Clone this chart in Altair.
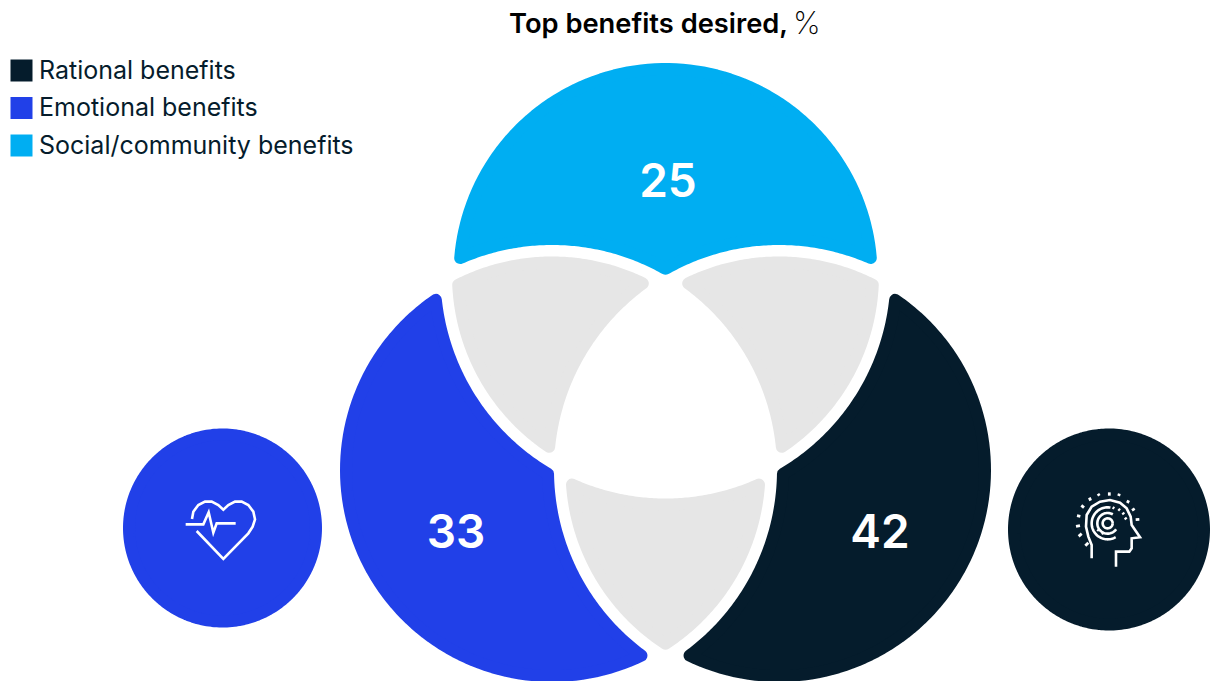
import numpy as np
import altair as alt

# Series and their values
series = ["Rational benefits", "Emotional benefits", "Social/community benefits"]
values = [42, 33, 25]
colors = ["#051c2c", "#2140e8", "#00aef2"]
overlap_color = "#e6e6e6"
ink = "#051c2c"

# Venn geometry, in pixels
CT, CL, CR = (665.5, 275.0), (552.0, 470.0), (779.0, 470.0)
RADIUS, CUT, ROUND = 212.0, 225.0, 6.0
R_OUT, R_CUT = RADIUS - ROUND, CUT + ROUND
R_LENS = R_OUT + 1.5


def meet(c1, r1, c2, r2, near):
    """Intersection of two circles closest to the point `near`."""
    c1, c2 = np.array(c1), np.array(c2)
    d = np.linalg.norm(c2 - c1)
    a = (r1**2 - r2**2 + d**2) / (2 * d)
    h = np.sqrt(r1**2 - a**2)
    u = (c2 - c1) / d
    mid = c1 + a * u
    perp = np.array([-u[1], u[0]])
    pts = [mid + h * perp, mid - h * perp]
    return min(pts, key=lambda p: np.linalg.norm(p - np.array(near)))


def arc(c, r, p, q, via=None, n=90):
    """Points along a circle from p to q, through `via` when given, else the short way."""
    c = np.array(c)
    a0 = np.arctan2(*(p - c)[::-1])
    a1 = np.arctan2(*(q - c)[::-1])
    d = (a1 - a0) % (2 * np.pi)
    if via is not None:
        v = (np.arctan2(via[1] - c[1], via[0] - c[0]) - a0) % (2 * np.pi)
        sweep = d if v < d else d - 2 * np.pi
    else:
        sweep = d if d <= np.pi else d - 2 * np.pi
    t = np.linspace(a0, a0 + sweep, n)
    return [[float(c[0] + r * np.cos(x)), float(c[1] + r * np.sin(x))] for x in t]


def ring(*arcs):
    pts = [p for a in arcs for p in a]
    return pts + [pts[0]]


def polygon(pts, **props):
    return {"type": "Feature", "properties": props,
            "geometry": {"type": "Polygon", "coordinates": [pts]}}


def disc(c, r, **props):
    t = np.linspace(0, 2 * np.pi, 240)
    return polygon([[float(c[0] + r * np.cos(x)), float(c[1] + r * np.sin(x))] for x in t], **props)


# Outer crescents
a = meet(CT, R_OUT, CL, R_CUT, (455, 262))
b = meet(CT, R_OUT, CR, R_CUT, (878, 262))
c = meet(CL, R_CUT, CR, R_CUT, (666, 273))
top = ring(arc(CT, R_OUT, a, b, via=(665, 60)), arc(CR, R_CUT, b, c), arc(CL, R_CUT, c, a))

a = meet(CL, R_OUT, CT, R_CUT, (435, 296))
b = meet(CL, R_OUT, CR, R_CUT, (645, 655))
c = meet(CT, R_CUT, CR, R_CUT, (553, 470))
left = ring(arc(CL, R_OUT, a, b, via=(340, 470)), arc(CR, R_CUT, b, c), arc(CT, R_CUT, c, a))

a = meet(CR, R_OUT, CT, R_CUT, (895, 296))
b = meet(CR, R_OUT, CL, R_CUT, (687, 655))
c = meet(CT, R_CUT, CL, R_CUT, (778, 470))
right = ring(arc(CR, R_OUT, a, b, via=(991, 470)), arc(CL, R_CUT, b, c), arc(CT, R_CUT, c, a))

# Pairwise overlaps
p1 = meet(CL, R_LENS, CT, R_LENS, (452, 282))
p2 = meet(CL, R_LENS, CR, R_CUT, (648, 283))
p3 = meet(CT, R_LENS, CR, R_CUT, (553, 450))
lens_left = ring(arc(CL, R_LENS, p1, p2), arc(CR, R_CUT, p2, p3), arc(CT, R_LENS, p3, p1))

p1 = meet(CR, R_LENS, CT, R_LENS, (878, 282))
p2 = meet(CR, R_LENS, CL, R_CUT, (684, 283))
p3 = meet(CT, R_LENS, CL, R_CUT, (779, 450))
lens_right = ring(arc(CR, R_LENS, p1, p2), arc(CL, R_CUT, p2, p3), arc(CT, R_LENS, p3, p1))

p1 = meet(CR, R_LENS, CT, R_CUT - 1.5, (566, 480))
p2 = meet(CL, R_LENS, CT, R_CUT - 1.5, (764, 480))
p3 = meet(CL, R_LENS, CR, R_LENS, (665, 650))
lens_bottom = ring(arc(CT, R_CUT - 1.5, p1, p2), arc(CL, R_LENS, p2, p3), arc(CR, R_LENS, p3, p1))

crescents = [
    polygon(right, series=series[0]),
    polygon(left, series=series[1]),
    polygon(top, series=series[2]),
    disc((1109, 529.5), 95, series=series[0]),
    disc((222.5, 528), 93.5, series=series[1]),
]
overlaps = [polygon(lens_left), polygon(lens_right), polygon(lens_bottom)]

# Icon outlines, on a 3x grid anchored at each icon's corner
heart_lines = [
    [(66, 102), (70, 80), (85, 60), (105, 50), (125, 50), (145, 60), (160, 74), (175, 60), (195, 50),
     (215, 50), (235, 60), (250, 80), (255, 103), (248, 125), (235, 145), (160, 222), (80, 138)],
    [(47, 118), (100, 118), (116, 82), (130, 143), (140, 115), (197, 115)],
]
head_lines = [
    [(95, 235), (95, 195), (85, 170), (78, 140), (80, 105), (95, 80), (120, 65), (150, 60), (180, 68),
     (200, 85), (212, 110), (215, 135), (240, 172), (215, 175), (215, 205), (208, 215), (168, 215), (168, 260)],
]
head_ticks = [
    [(148, 37), (148, 47)], [(114, 41), (118, 47)], [(178, 41), (176, 48)], [(88, 53), (92, 62)],
    [(206, 61), (202, 69)], [(64, 76), (72, 83)], [(224, 86), (216, 91)], [(51, 107), (61, 109)],
    [(227, 119), (238, 118)], [(48, 139), (60, 137)], [(56, 169), (65, 161)], [(76, 197), (85, 188)],
    [(158, 82), (163, 85)], [(175, 87), (180, 91)], [(188, 98), (192, 103)], [(195, 113), (199, 118)],
    [(112, 148), (117, 152)], [(126, 158), (131, 162)],
]
head_rings = [
    ((143, 130), 15, 0, 360),
    ((143, 130), 31, 35, 300),
    ((143, 130), 48, 60, 280),
]


def grid(points, origin):
    return [[origin[0] + x / 3, origin[1] + y / 3] for x, y in points]


def line(points, **props):
    return {"type": "Feature", "properties": props,
            "geometry": {"type": "LineString", "coordinates": points}}


icon_lines = [line(grid(p, (170, 485))) for p in heart_lines]
icon_lines += [line(grid(p, (1060, 480))) for p in head_lines]
for centre, r, start, end in head_rings:
    t = np.radians(np.linspace(start, end, 60))
    pts = [(centre[0] + r * np.cos(x), centre[1] + r * np.sin(x)) for x in t]
    icon_lines.append(line(grid(pts, (1060, 480))))
tick_lines = [line(grid(p, (1060, 480))) for p in head_ticks]


def features(items):
    return alt.InlineData(values={"type": "FeatureCollection", "features": items},
                          format=alt.DataFormat(property="features", type="json"))


pixel_map = dict(type="identity", scale=1, translate=[0, 0])
x_px = alt.X("x:Q", scale=alt.Scale(domain=[0, 1212]), axis=None)
y_px = alt.Y("y:Q", scale=alt.Scale(domain=[681, 0]), axis=None)
color_scale = alt.Scale(domain=series, range=colors)

crescent_layer = alt.Chart(features(crescents)).mark_geoshape(
    strokeWidth=2 * ROUND, strokeJoin="round"
).encode(
    fill=alt.Fill(
        "properties.series:N", scale=color_scale,
        legend=alt.Legend(
            title=None, orient="none", legendX=9, legendY=58, symbolType="square", symbolSize=484,
            symbolStrokeWidth=0, labelFont="Inter", labelFontSize=25, labelColor=ink,
            labelOffset=5, rowPadding=11.5, labelLimit=400,
        ),
    ),
    stroke=alt.Stroke("properties.series:N", scale=color_scale, legend=None),
).project(**pixel_map)

overlap_layer = alt.Chart(features(overlaps)).mark_geoshape(
    fill=overlap_color, stroke=overlap_color, strokeWidth=2 * ROUND, strokeJoin="round"
).project(**pixel_map)

icon_layer = alt.Chart(features(icon_lines)).mark_geoshape(
    filled=False, stroke="white", strokeWidth=2.6, strokeJoin="miter"
).project(**pixel_map)

tick_layer = alt.Chart(features(tick_lines)).mark_geoshape(
    filled=False, stroke="white", strokeWidth=2.8
).project(**pixel_map)

value_layer = alt.Chart(alt.Data(values=[
    {"label": str(values[0]), "x": 880, "y": 534},
    {"label": str(values[1]), "x": 456, "y": 534},
    {"label": str(values[2]), "x": 668, "y": 183},
])).mark_text(
    font="Inter", fontSize=46, fontWeight=600, color="white", align="center", baseline="middle"
).encode(x=x_px, y=y_px, text="label:N")

title_bold = alt.Chart(alt.Data(values=[{"label": "Top benefits desired,", "x": 509, "y": 25}])).mark_text(
    font="Inter", fontSize=27.3, fontWeight=600, color="black", align="left", baseline="middle"
).encode(x=x_px, y=y_px, text="label:N")

title_unit = alt.Chart(alt.Data(values=[{"label": "%", "x": 793, "y": 25}])).mark_text(
    font="Inter", fontSize=31, fontWeight=200, color="black", align="left", baseline="middle"
).encode(x=x_px, y=y_px, text="label:N")

chart = alt.layer(
    crescent_layer, overlap_layer, icon_layer, tick_layer, value_layer, title_bold, title_unit
).properties(
    width=1212, height=681, padding=0, autosize=alt.AutoSizeParams(type="none"),
    background="white",
).configure_view(stroke=None)

chart.save("out.html", embed_options={"renderer": "svg", "actions": False})
